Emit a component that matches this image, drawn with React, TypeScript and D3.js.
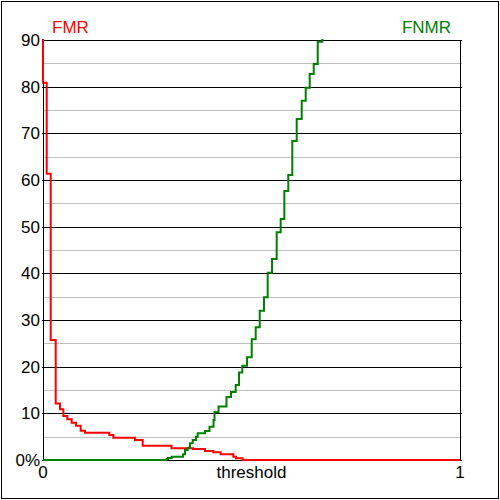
import React from "react";
import * as d3 from "d3";

// FMR (false match rate, %) – value holds from threshold until the next threshold
const fmrThreshold = [0, 0, 0.0089, 0.0185, 0.0305, 0.0408, 0.0487, 0.0583, 0.0688, 0.0791, 0.0904, 0.1007, 0.159, 0.1686, 0.2206, 0.2391, 0.3082, 0.3597, 0.3885, 0.4084, 0.4261, 0.4564, 0.4628, 0.4789, 1];
const fmrValue = [100, 80.85, 61.35, 25.71, 12.1, 10.86, 9.43, 8.71, 7.99, 7.35, 6.28, 5.85, 5.36, 4.78, 4.29, 3.07, 2.5, 2.36, 1.93, 1.64, 1.21, 0.71, 0.36, 0, 0];

// FNMR (false non-match rate, %)
const fnmrThreshold = [0, 0.2966, 0.2998, 0.3086, 0.3357, 0.3405, 0.347, 0.3525, 0.359, 0.3669, 0.371, 0.3885, 0.3993, 0.4089, 0.4113, 0.4209, 0.44, 0.4508, 0.4621, 0.47, 0.4779, 0.4892, 0.5005, 0.5101, 0.5197, 0.53, 0.5388, 0.5492, 0.5604, 0.57, 0.5787, 0.5882, 0.5978, 0.6084, 0.6204, 0.63, 0.6396, 0.6492, 0.6588, 0.6698];
const fnmrValue = [0, 0.2, 0.43, 0.71, 1.22, 2.14, 2.64, 3.58, 4.29, 4.99, 5.72, 6.21, 7.14, 8.57, 10.29, 11.46, 13.5, 14.57, 16.07, 18.75, 20.21, 22.01, 25.86, 28.44, 31.99, 34.86, 40.14, 43.07, 48.79, 51.64, 57.64, 61.07, 68.36, 73.07, 77.0, 79.78, 82.71, 84.86, 89.64, 90.3];

const majorTicks = [0, 10, 20, 30, 40, 50, 60, 70, 80, 90];
const minorTicks = [5, 15, 25, 35, 45, 55, 65, 75, 85];
const yTickLabels = ["0%", "10", "20", "30", "40", "50", "60", "70", "80", "90"];
const xTickValues = [0, 1];
const xTickLabels = ["0", "1"];
const seriesNames = ["FMR", "FNMR"];
const xAxisTitle = "threshold";

export default function App() {
  const left = 43, right = 460, top = 40, bottom = 460;
  const x = d3.scaleLinear().domain([0, 1]).range([left, right]);
  const y = d3.scaleLinear().domain([0, 90]).range([bottom, top]);
  const crisp = (v: number) => Math.round(v) + 0.5;

  const fmr = fmrThreshold.map((t, i) => [t, fmrValue[i]] as [number, number]);
  const fnmr = fnmrThreshold.map((t, i) => [t, fnmrValue[i]] as [number, number]);
  const line = d3
    .line<[number, number]>()
    .x((d) => x(d[0]))
    .y((d) => y(d[1]))
    .curve(d3.curveStepAfter);

  const font = "Arial, 'Liberation Sans', sans-serif";

  return (
    <svg
      width={500}
      height={500}
      style={{ position: "absolute", left: 0, top: 0, background: "#fff" }}
      fontFamily={font}
    >
      <rect x={0} y={0} width={500} height={500} fill="#fff" />
      <rect x={1.5} y={1.5} width={497} height={497} fill="none" stroke="#000" strokeWidth={1} />
      <defs>
        <clipPath id="plotClip">
          <rect x={left - 2} y={top - 1} width={right - left + 4} height={bottom - top + 3} />
        </clipPath>
      </defs>
      {minorTicks.map((v) => (
        <line key={"mi" + v} x1={left} x2={right + 2} y1={crisp(y(v))} y2={crisp(y(v))} stroke="#c0c0c0" strokeWidth={1} />
      ))}
      {majorTicks.map((v) => (
        <line key={"ma" + v} x1={left - 1} x2={right + 2} y1={crisp(y(v))} y2={crisp(y(v))} stroke="#000" strokeWidth={1} />
      ))}
      <line x1={crisp(left)} x2={crisp(left)} y1={top} y2={bottom + 1} stroke="#000" strokeWidth={1} />
      <line x1={crisp(right)} x2={crisp(right)} y1={top} y2={bottom + 1} stroke="#000" strokeWidth={1} />
      {majorTicks.map((v, i) => (
        <text key={"yl" + v} x={40} y={y(v)} dy="0.35em" textAnchor="end" fontSize={17} fill="#000">
          {yTickLabels[i]}
        </text>
      ))}
      {xTickValues.map((v, i) => (
        <text key={"xl" + v} x={x(v)} y={478} textAnchor="middle" fontSize={17} fill="#000">
          {xTickLabels[i]}
        </text>
      ))}
      <text x={x(0.5)} y={478} textAnchor="middle" fontSize={17} fill="#000">
        {xAxisTitle}
      </text>
      <text x={52} y={33} fontSize={17} fill="#ff0000">
        {seriesNames[0]}
      </text>
      <text x={451} y={33} textAnchor="end" fontSize={17} fill="#008000">
        {seriesNames[1]}
      </text>
      <g clipPath="url(#plotClip)">
        <path d={line(fmr) || ""} fill="none" stroke="#ff0000" strokeWidth={2} />
        <path d={line(fnmr) || ""} fill="none" stroke="#008000" strokeWidth={2} />
      </g>
    </svg>
  );
}
